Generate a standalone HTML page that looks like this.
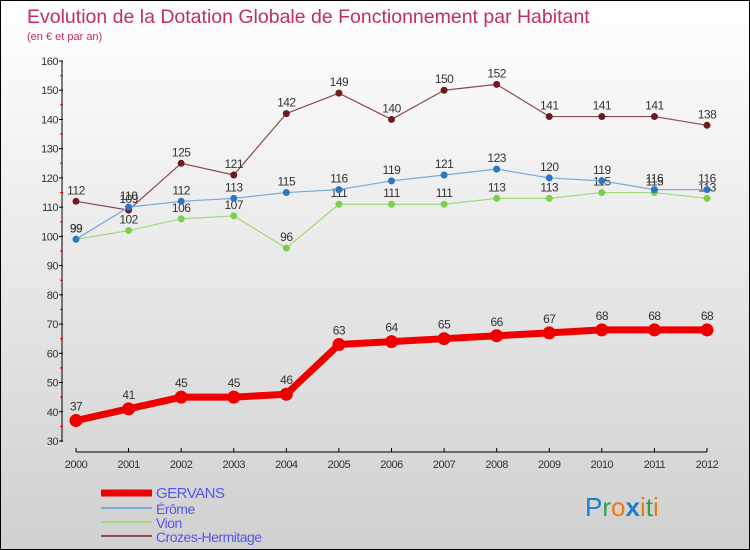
<!DOCTYPE html>
<html><head><meta charset="utf-8"><style>
body{margin:0}
#c{width:748px;height:548px;border:1px solid #000;background:linear-gradient(#fff,#d0d0d0);position:relative;overflow:hidden;font-family:"Liberation Sans",sans-serif}
svg{position:absolute;left:0;top:0}
</style></head><body>
<div id="c">
<svg id="s" width="748" height="548">
<text x="26" y="22" font-size="19.5" fill="#c0305a">Evolution de la Dotation Globale de Fonctionnement par Habitant</text>
<text x="26" y="39" font-size="11" fill="#c0305a">(en € et par an)</text>
<g font-size="26" font-family="Liberation Sans, sans-serif"><text x="584" y="515"><tspan fill="#1a7fd0">P</tspan><tspan fill="#2fa04a">r</tspan><tspan fill="#f07a10">o</tspan><tspan fill="#1a7fd0" font-weight="bold">x</tspan><tspan fill="#f07a10">i</tspan><tspan fill="#2fa04a">t</tspan><tspan fill="#f07a10">i</tspan></text></g>
</svg>
</div>
<script>
const years=["2000","2001","2002","2003","2004","2005","2006","2007","2008","2009","2010","2011","2012"];
const gervans=[37,41,45,45,46,63,64,65,66,67,68,68,68];
const erome=[99,110,112,113,115,116,119,121,123,120,119,116,116];
const vion=[99,102,106,107,96,111,111,111,113,113,115,115,113];
const crozes=[112,109,125,121,142,149,140,150,152,141,141,141,138];
const yTicks=[30,40,50,60,70,80,90,100,110,120,130,140,150,160];
const names=["GERVANS","Érôme","Vion","Crozes-Hermitage"];
const svg=document.getElementById('s');const NS="http://www.w3.org/2000/svg";
const X=i=>75+i*(706-75)/(years.length-1);
const Y=v=>440-(v-30)*(440-60)/130;
function mk(t,a,p){const e=document.createElementNS(NS,t);for(const k in a)e.setAttribute(k,a[k]);(p||svg).appendChild(e);return e;}
const ax=mk('g',{});


mk('line',{x1:61,y1:60,x2:61,y2:441,stroke:'#000'},ax);
mk('line',{x1:75,y1:451,x2:706,y2:451,stroke:'#000'},ax);
yTicks.forEach((v,i)=>{const y=Y(v);mk('line',{x1:58,y1:y,x2:62,y2:y,stroke:'#000'},ax);
 if(i<yTicks.length-1)mk('line',{x1:59,y1:Y(v+5),x2:62,y2:Y(v+5),stroke:'#e00'},ax);
 const t=mk('text',{x:57,y:y+4,'font-size':11,fill:'#333','text-anchor':'end','letter-spacing':'-0.5'},ax);t.textContent=v;
 
 });
years.forEach((yr,i)=>{const x=X(i);mk('line',{x1:x,y1:447,x2:x,y2:451,stroke:'#000'},ax);
 const t=mk('text',{x:x,y:467,'font-size':11,fill:'#333','text-anchor':'middle','letter-spacing':'-0.5'},ax);t.textContent=yr;
 
 });
const series=[[crozes,'#6e1a24','#8a4a50',1.2,3.5,'crozes'],[vion,'#7ccf4a','#9fd97a',1.2,3.5,'vion'],[erome,'#2a78c0','#7aaad8',1.2,3.5,'erome'],[gervans,'#e00','#e00',7,6.5,'gervans']];
series.forEach(([d,dot,ln,w,r,n])=>{const g=mk('g',{});
 
 
 mk('polyline',{points:d.map((v,i)=>X(i)+','+Y(v)).join(' '),fill:'none',stroke:ln,'stroke-width':w,'stroke-linejoin':'round'},g);
 d.forEach((v,i)=>{const c=mk('circle',{cx:X(i),cy:Y(v),r:r,fill:dot},g);
  
  
  const t=mk('text',{x:X(i),y:Y(v)-(n=='gervans'?10:7),'font-size':12,fill:'#333','text-anchor':'middle','letter-spacing':'-0.5'},g);t.textContent=v;
  
  });});
const lg=mk('g',{});


const lc=['#e00','#7aaad8','#9fd97a','#8a4a50'],lw=[7,2,2,2],ly=[492,510,524,538];
names.forEach((nm,i)=>{const e=mk('g',{},lg);
 
 
 mk('line',{x1:100,y1:ly[i]+(i?-3:0),x2:151,y2:ly[i]+(i?-3:0),stroke:lc[i],'stroke-width':lw[i]},e);
 const t=mk('text',{x:155,y:ly[i]+(i?3:5),'font-size':i?14:15,fill:'#5555ee','letter-spacing':'-0.5'},e);t.textContent=nm;});
</script>
</body></html>
